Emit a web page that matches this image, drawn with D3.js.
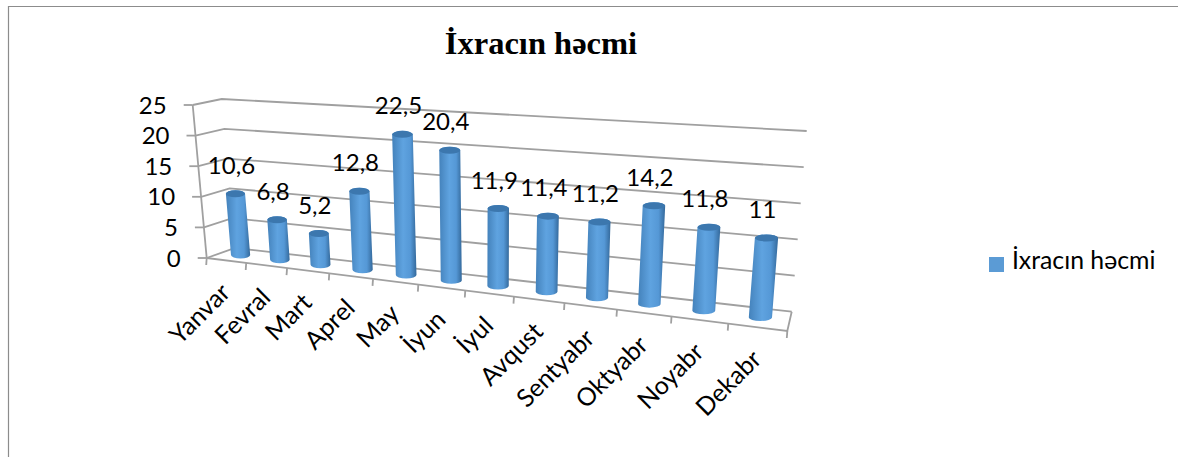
<!DOCTYPE html>
<html>
<head>
<meta charset="utf-8">
<script src="https://cdn.jsdelivr.net/npm/d3@7"></script>
<style>
  body { margin: 0; background: #fff; }
  text { font-family: Lato, "Noto Sans", sans-serif; fill: #000; }
</style>
</head>
<body>
<script>
var categories = ["Yanvar", "Fevral", "Mart", "Aprel", "May", "İyun", "İyul", "Avqust", "Sentyabr", "Oktyabr", "Noyabr", "Dekabr"];
var values = [10.6, 6.8, 5.2, 12.8, 22.5, 20.4, 11.9, 11.4, 11.2, 14.2, 11.8, 11];
var valueLabels = ["10,6", "6,8", "5,2", "12,8", "22,5", "20,4", "11,9", "11,4", "11,2", "14,2", "11,8", "11"];
var yTicks = [0, 5, 10, 15, 20, 25];
var seriesName = "İxracın həcmi";

var width = 1178, height = 457;

var svg = d3.select("body").append("svg")
    .attr("width", width)
    .attr("height", height);

// the four vertical edges of the 3d box, as value -> pixel scales
function edge(x0, y0, x1, y1) {
  return {
    x: d3.scaleLinear().domain([0, 25]).range([x0, x1]),
    y: d3.scaleLinear().domain([0, 25]).range([y0, y1])
  };
}
var frontLeft = edge(206.7, 258, 192.7, 105),
    backLeft = edge(235, 248, 221.7, 99),
    frontRight = edge(787.3, 331, 803, 146),
    backRight = edge(791.7, 311.7, 806.7, 131);

// categories get wider towards the right because of the perspective
var xBand = d3.scaleBand().domain(categories).range([0, 1]);
var persp = 0.197;
function warp(u) { return u * (1 - persp) / (1 - persp * u); }

// u: 0..1 along the x axis, v: value, d: 0 front .. 1 back
function project(u, v, d) {
  var t = warp(u);
  var lx = d3.interpolateNumber(frontLeft.x(v), backLeft.x(v))(d),
      ly = d3.interpolateNumber(frontLeft.y(v), backLeft.y(v))(d),
      rx = d3.interpolateNumber(frontRight.x(v), backRight.x(v))(d),
      ry = d3.interpolateNumber(frontRight.y(v), backRight.y(v))(d);
  return [lx + (rx - lx) * t, ly + (ry - ly) * t];
}

var lineGen = d3.line();
var axisColor = "#a0a0a0";

function drawLine(points, w) {
  svg.append("path")
    .attr("d", lineGen(points))
    .attr("fill", "none")
    .attr("stroke", axisColor)
    .attr("stroke-width", w || 1.8);
}

// chart frame, only top and left are visible in the picture
svg.append("path")
    .attr("d", lineGen([[8.5, height], [8.5, 6.5], [width, 6.5]]))
    .attr("fill", "none")
    .attr("stroke", "#8c8c8c")
    .attr("stroke-width", 1.2);

// gridlines on side wall and back wall
yTicks.forEach(function(v) {
  drawLine([project(0, v, 0), project(0, v, 1), project(1, v, 1)]);
  var p = project(0, v, 0);
  drawLine([[p[0] - 9, p[1]], p]);
});

// axis lines and floor
drawLine([project(0, 0, 0), project(0, 25, 0)]);
drawLine([project(0, 0, 0), project(1, 0, 0), project(1, 0, 1)]);

// x ticks
d3.range(categories.length + 1).forEach(function(i) {
  var p = project(i / categories.length, 0, 0);
  drawLine([p, [p[0] - 0.5, p[1] + 7]]);
});

// y labels
svg.selectAll(".ylabel")
    .data(yTicks)
  .enter().append("text")
    .attr("class", "ylabel")
    .attr("x", function(d) { return project(0, d, 0)[0] - 26; })
    .attr("y", function(d) { return project(0, d, 0)[1] + 2.5; })
    .attr("text-anchor", "end")
    .attr("dominant-baseline", "middle")
    .style("font-size", "24px")
    .text(function(d) { return d; });

// x labels, rotated
svg.selectAll(".xlabel")
    .data(categories)
  .enter().append("text")
    .attr("class", "xlabel")
    .attr("transform", function(d) {
      var u = xBand(d) + xBand.bandwidth() / 2;
      var p = project(u, 0, 0);
      return "translate(" + (p[0] + 1) + "," + (p[1] + 29) + ") rotate(-45)";
    })
    .attr("text-anchor", "end")
    .attr("dominant-baseline", "middle")
    .style("font-size", "25px")
    .text(function(d) { return d; });

// cylinders
var defs = svg.append("defs");
var grad = defs.append("linearGradient").attr("id", "cyl");
grad.append("stop").attr("offset", "0%").attr("stop-color", "#4482bb");
grad.append("stop").attr("offset", "45%").attr("stop-color", "#5fa3e0");
grad.append("stop").attr("offset", "75%").attr("stop-color", "#5598d6");
grad.append("stop").attr("offset", "100%").attr("stop-color", "#34699b");

var barDepth = 0.52;
var barRadius = d3.scaleLinear().domain([0, 1]).range([9.5, 11.7]);
var barStretch = d3.scaleLinear().domain([0, 1]).range([0.95, 1]);

var bars = svg.selectAll(".bar")
    .data(categories)
  .enter().append("g")
    .attr("class", "bar");

function barGeom(cat, i) {
  var u = xBand(cat) + xBand.bandwidth() / 2;
  var bottom = project(u, 0, barDepth);
  var top = project(u, values[i] * barStretch(u), barDepth);
  return {bottom: bottom, top: top, r: barRadius(u), ry: 3.5};
}

bars.append("path")
    .attr("fill", "url(#cyl)")
    .attr("d", function(d, i) {
      var g = barGeom(d, i);
      return "M" + (g.top[0] - g.r) + "," + g.top[1] +
        "L" + (g.bottom[0] - g.r) + "," + g.bottom[1] +
        "A" + g.r + "," + g.ry + " 0 0 0 " + (g.bottom[0] + g.r) + "," + g.bottom[1] +
        "L" + (g.top[0] + g.r) + "," + g.top[1] +
        "A" + g.r + "," + g.ry + " 0 0 0 " + (g.top[0] - g.r) + "," + g.top[1] + "Z";
    });

bars.append("ellipse")
    .attr("cx", function(d, i) { return barGeom(d, i).top[0]; })
    .attr("cy", function(d, i) { return barGeom(d, i).top[1]; })
    .attr("rx", function(d, i) { return barGeom(d, i).r; })
    .attr("ry", function(d, i) { return barGeom(d, i).ry; })
    .attr("fill", "#3c77ae");

// data labels
svg.selectAll(".vlabel")
    .data(categories)
  .enter().append("text")
    .attr("class", "vlabel")
    .attr("x", function(d, i) { return barGeom(d, i).top[0] - 4; })
    .attr("y", function(d, i) { return barGeom(d, i).top[1] - 26; })
    .attr("text-anchor", "middle")
    .attr("dominant-baseline", "middle")
    .style("font-size", "24px")
    .text(function(d, i) { return valueLabels[i]; });

// title
svg.append("text")
    .attr("x", 541)
    .attr("y", 54)
    .attr("text-anchor", "middle")
    .style("font-family", "'Liberation Serif', serif")
    .style("font-weight", "bold")
    .style("font-size", "32.5px")
    .text(seriesName);

// legend
svg.append("rect")
    .attr("x", 989).attr("y", 257)
    .attr("width", 15).attr("height", 15)
    .attr("fill", "#5b9bd5");
svg.append("text")
    .attr("x", 1012).attr("y", 263)
    .attr("dominant-baseline", "middle")
    .style("font-size", "24.8px")
    .text(seriesName);
</script>
</body>
</html>
